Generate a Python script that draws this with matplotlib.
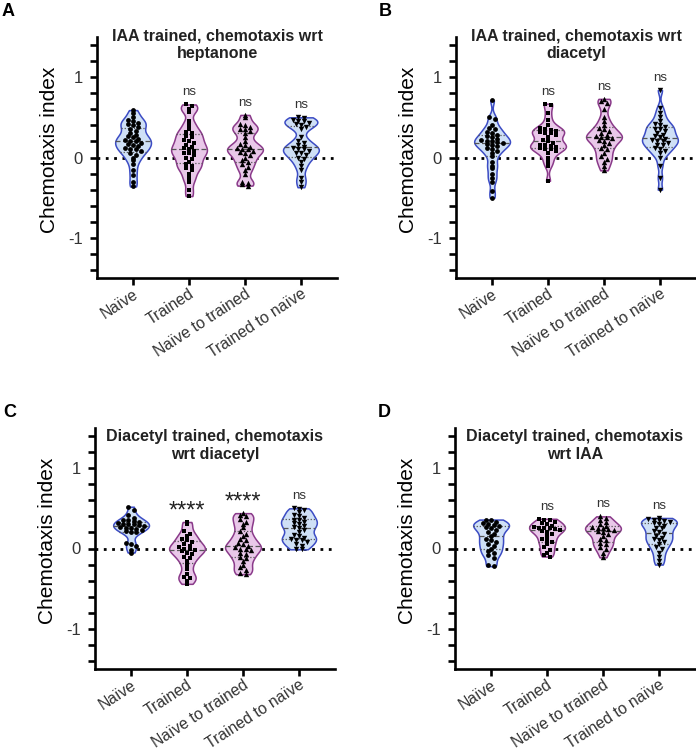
import numpy as np
import matplotlib.pyplot as plt
from matplotlib.ticker import MultipleLocator

plt.rcParams['font.family'] = ['Liberation Sans', 'DejaVu Sans']

# categorias y textos
categories = ['Naïve', 'Trained', 'Naïve to trained', 'Trained to naïve']
panel_letters = ['A', 'B', 'C', 'D']
panel_titles = ['IAA trained, chemotaxis wrt\nheptanone',
                'IAA trained, chemotaxis wrt\ndiacetyl',
                'Diacetyl trained, chemotaxis\nwrt diacetyl',
                'Diacetyl trained, chemotaxis\nwrt IAA']
sig_a = ['', 'ns', 'ns', 'ns']
sig_b = ['', 'ns', 'ns', 'ns']
sig_c = ['', '****', '****', 'ns']
sig_d = ['', 'ns', 'ns', 'ns']

# Panel A: IAA trained, heptanone
a_naive = [0.59, 0.55, 0.5, 0.47, 0.45, 0.43, 0.42, 0.4, 0.38, 0.36, 0.33, 0.3, 0.28, 0.27,
           0.25, 0.23, 0.22, 0.2, 0.2, 0.18, 0.17, 0.15, 0.14, 0.12, 0.1, 0.1, 0.08, 0.05,
           0.03, 0.0, -0.03, -0.08, -0.15, -0.22, -0.3, -0.36]
a_trained = [0.66, 0.64, 0.6, 0.57, 0.45, 0.4, 0.35, 0.32, 0.3, 0.27, 0.25, 0.22, 0.2, 0.18,
             0.15, 0.13, 0.12, 0.1, 0.08, 0.06, 0.05, 0.03, 0.0, -0.02, -0.05, -0.08, -0.1,
             -0.13, -0.15, -0.2, -0.25, -0.3, -0.4, -0.48]
a_n2t = [0.53, 0.5, 0.42, 0.4, 0.38, 0.36, 0.35, 0.33, 0.3, 0.25, 0.2, 0.17, 0.15, 0.13,
         0.12, 0.1, 0.1, 0.08, 0.07, 0.05, 0.03, 0.0, -0.03, -0.05, -0.08, -0.12, -0.15,
         -0.2, -0.3, -0.32, -0.33, -0.35]
a_t2n = [0.5, 0.49, 0.47, 0.46, 0.45, 0.43, 0.42, 0.4, 0.38, 0.35, 0.25, 0.2, 0.18, 0.15,
         0.13, 0.12, 0.1, 0.1, 0.08, 0.06, 0.05, 0.03, 0.0, -0.02, -0.05, -0.1, -0.15,
         -0.25, -0.3, -0.37]

# Panel B: IAA trained, diacetyl
b_naive = [0.71, 0.5, 0.48, 0.4, 0.37, 0.35, 0.32, 0.3, 0.28, 0.27, 0.25, 0.23, 0.22, 0.2,
           0.2, 0.19, 0.18, 0.17, 0.15, 0.14, 0.12, 0.1, 0.08, 0.05, 0.02, -0.05, -0.1,
           -0.13, -0.2, -0.25, -0.3, -0.42, -0.5]
b_trained = [0.67, 0.65, 0.55, 0.47, 0.4, 0.37, 0.35, 0.34, 0.33, 0.32, 0.3, 0.3, 0.28, 0.25,
             0.22, 0.2, 0.18, 0.16, 0.15, 0.14, 0.13, 0.12, 0.11, 0.1, 0.08, 0.05, 0.0,
             -0.05, -0.1, -0.29]
b_n2t = [0.73, 0.7, 0.68, 0.6, 0.5, 0.45, 0.4, 0.37, 0.35, 0.33, 0.3, 0.28, 0.27, 0.26,
         0.25, 0.24, 0.22, 0.2, 0.18, 0.15, 0.12, 0.1, 0.05, 0.02, -0.02, -0.05, -0.1, -0.16]
b_t2n = [0.84, 0.62, 0.55, 0.5, 0.45, 0.42, 0.4, 0.38, 0.36, 0.35, 0.33, 0.3, 0.28, 0.27,
         0.25, 0.23, 0.22, 0.2, 0.2, 0.18, 0.16, 0.15, 0.12, 0.1, 0.08, 0.05, 0.0, -0.1,
         -0.25, -0.4]

# Panel C: Diacetyl trained, diacetyl
c_naive = [0.52, 0.48, 0.42, 0.38, 0.36, 0.35, 0.34, 0.33, 0.32, 0.31, 0.3, 0.3, 0.29, 0.28,
           0.27, 0.26, 0.25, 0.24, 0.23, 0.22, 0.2, 0.2, 0.07, 0.05, 0.03, -0.02, -0.05]
c_trained = [0.33, 0.3, 0.22, 0.18, 0.15, 0.12, 0.1, 0.08, 0.05, 0.03, 0.02, 0.0, 0.0, -0.02,
             -0.03, -0.05, -0.07, -0.1, -0.12, -0.15, -0.2, -0.25, -0.32, -0.35, -0.37,
             -0.4, -0.44]
c_n2t = [0.44, 0.42, 0.4, 0.37, 0.33, 0.3, 0.27, 0.22, 0.18, 0.15, 0.12, 0.1, 0.07, 0.05,
         0.03, 0.02, 0.0, 0.0, -0.02, -0.05, -0.07, -0.1, -0.12, -0.15, -0.2, -0.23, -0.27,
         -0.3, -0.32]
c_t2n = [0.5, 0.49, 0.48, 0.45, 0.42, 0.4, 0.38, 0.36, 0.35, 0.33, 0.32, 0.3, 0.28, 0.27,
         0.25, 0.23, 0.2, 0.17, 0.15, 0.13, 0.12, 0.11, 0.1, 0.08, 0.05, 0.03, 0.0, -0.01]

# Panel D: Diacetyl trained, IAA
d_naive = [0.36, 0.35, 0.33, 0.32, 0.3, 0.29, 0.28, 0.27, 0.25, 0.23, 0.2, 0.18, 0.15, 0.12,
           0.1, 0.08, 0.05, 0.03, 0.0, -0.03, -0.05, -0.08, -0.12, -0.2, -0.22]
d_trained = [0.37, 0.36, 0.35, 0.33, 0.32, 0.3, 0.28, 0.27, 0.26, 0.25, 0.25, 0.24, 0.23, 0.22,
             0.2, 0.18, 0.15, 0.12, 0.1, 0.08, 0.05, 0.02, -0.02, -0.05, -0.08, -0.1]
d_n2t = [0.4, 0.38, 0.35, 0.33, 0.3, 0.28, 0.27, 0.26, 0.25, 0.24, 0.23, 0.22, 0.2, 0.18,
         0.15, 0.12, 0.1, 0.07, 0.05, 0.02, 0.0, -0.05, -0.11]
d_t2n = [0.38, 0.37, 0.36, 0.35, 0.34, 0.33, 0.32, 0.3, 0.28, 0.26, 0.25, 0.22, 0.2, 0.18,
         0.15, 0.13, 0.12, 0.1, 0.08, 0.05, 0.02, 0.0, -0.05, -0.1, -0.15, -0.2]

panel_data = [[a_naive, a_trained, a_n2t, a_t2n],
              [b_naive, b_trained, b_n2t, b_t2n],
              [c_naive, c_trained, c_n2t, c_t2n],
              [d_naive, d_trained, d_n2t, d_t2n]]
panel_sig = [sig_a, sig_b, sig_c, sig_d]

# estilos
blue_fill, blue_edge = '#cfe0f6', '#3c4cc4'
pink_fill, pink_edge = '#e9c8e9', '#8a3a8a'
fills = [blue_fill, pink_fill, pink_fill, blue_fill]
edges = [blue_edge, pink_edge, pink_edge, blue_edge]
markers = ['o', 's', '^', 'v']
msizes = [12, 8, 15, 15]

W, H = 696, 754
ax_rects = [(97, 37), (456, 37), (95, 428), (455, 428)]  # (izquierda, arriba) en px
title_y = [1.4, 1.4, 1.28, 1.28]
letter_pos = [(2, 3), (379, 3), (3, 404), (378, 404)]

fig = plt.figure(figsize=(W / 100, H / 100), dpi=100)


def kde(vals, grid, bw=0.055):
    v = np.asarray(vals)
    d = np.exp(-0.5 * ((grid[:, None] - v[None, :]) / bw) ** 2).sum(axis=1)
    return d


def swarm_offsets(vals, row=0.05, dx=0.095):
    v = np.asarray(vals)
    rows = np.round(v / row).astype(int)
    off = np.zeros(len(v))
    for r in np.unique(rows):
        idx = np.where(rows == r)[0]
        n = len(idx)
        off[idx] = (np.arange(n) - (n - 1) / 2) * dx
    return off


for p in range(4):
    left, top = ax_rects[p]
    ax = fig.add_axes([left / W, 1 - (top + 241) / H, 240 / W, 241 / H])
    ax.set_xlim(-0.645, 3.645)
    ax.set_ylim(-1.5, 1.5)

    ax.axhline(0, color='black', lw=2, ls=(0, (1, 2)), zorder=1)

    for i, vals in enumerate(panel_data[p]):
        v = np.asarray(vals)
        grid = np.linspace(v.min(), v.max(), 300)
        dens = kde(v, grid)
        w = dens / dens.max() * 0.32
        ax.fill_betweenx(grid, i - w, i + w, facecolor=fills[i], edgecolor=edges[i],
                         lw=1.1, zorder=2)
        # mediana y cuartiles
        for q, ls in [(50, (0, (4, 2))), (25, (0, (1, 1.5))), (75, (0, (1, 1.5)))]:
            yq = np.percentile(v, q)
            wq = np.interp(yq, grid, w)
            ax.plot([i - wq, i + wq], [yq, yq], color='#555555', lw=0.9, ls=ls, zorder=3)
        xo = swarm_offsets(v)
        ax.scatter(i + xo, v, marker=markers[i], s=msizes[i], color='black',
                   linewidths=0, zorder=4)
        lab = panel_sig[p][i]
        if lab == 'ns':
            ax.text(i, v.max() + 0.15, lab, ha='center', va='center', fontsize=9.5,
                    color='#333333', zorder=5)
        elif lab:
            ax.text(i, v.max() + 0.06, lab, ha='center', va='baseline', fontsize=17,
                    color='#222222', zorder=5)

    ax.text(0.5, (title_y[p] + 1.5) / 3, panel_titles[p], transform=ax.transAxes,
            ha='center', va='center', fontsize=11.5, fontweight='bold', color='#222222',
            linespacing=1.2)

    for s in ['top', 'right']:
        ax.spines[s].set_visible(False)
    for s in ['left', 'bottom']:
        ax.spines[s].set_linewidth(1.9)

    ax.set_yticks([-1, 0, 1])
    ax.set_yticklabels(['-1', '0', '1'])
    ax.yaxis.set_minor_locator(MultipleLocator(0.2))
    ax.tick_params(axis='y', which='both', length=5, width=1.9, labelsize=12,
                   labelcolor='#333333', pad=5)
    ax.set_xticks(range(4))
    ax.set_xticklabels(categories, rotation=33, ha='right', rotation_mode='anchor',
                       fontsize=11.3, color='#333333')
    ax.tick_params(axis='x', length=5, width=1.9, pad=1)
    ax.set_ylabel('Chemotaxis index', fontsize=15, color='black')
    ax.yaxis.set_label_coords(-0.16, 0.53)

    lx, ly = letter_pos[p]
    fig.text(lx / W, 1 - ly / H, panel_letters[p], ha='left', va='top', fontsize=13,
             fontweight='bold')

fig.savefig('out.png', dpi=100)
